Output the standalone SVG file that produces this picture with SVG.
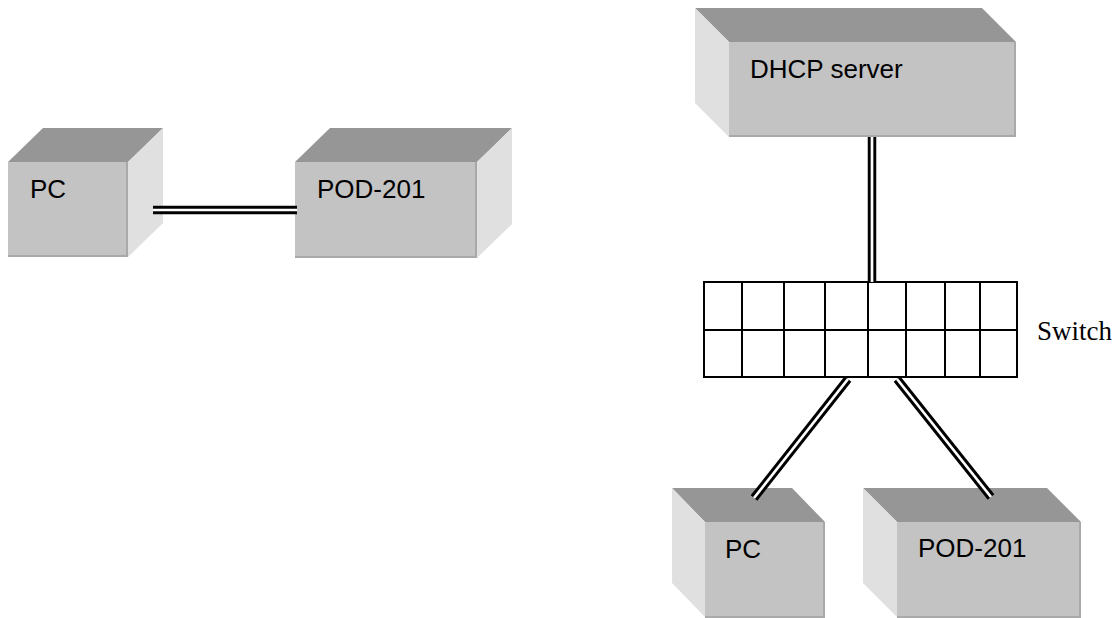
<svg xmlns="http://www.w3.org/2000/svg" width="1116" height="618" viewBox="0 0 1116 618">
<style>
.top{fill:#969696}
.front{fill:#c3c3c3}
.side{fill:#e0e0e0}
.edge{stroke:#a9a9a9;stroke-width:2;fill:none}
.lbl{font-family:"Liberation Sans",Arial,sans-serif;font-size:26px;fill:#000}
.slbl{font-family:"Liberation Serif","Times New Roman",serif;font-size:27px;fill:#000}
.grid{fill:#fff;stroke:#000;stroke-width:2}
.wo{stroke:#000;stroke-width:8.5;fill:none;stroke-linecap:butt}
.wi{stroke:#fff;stroke-width:2.7;fill:none;stroke-linecap:butt}
</style>
<rect width="1116" height="618" fill="#fff"/>

<g id="pc-left">
<polygon class="top" points="8,162 43,128 163,128 128,162"/>
<polygon class="side" points="128,162 163,128 163,223 128,257"/>
<rect class="front" x="8" y="162" width="120" height="95"/>
<polyline class="edge" points="8,256 127,256 127,162"/>
<text class="lbl" x="30" y="198">PC</text>
</g>

<g id="pod-left">
<polygon class="top" points="295,162 330,128 512,128 477,162"/>
<polygon class="side" points="477,162 512,128 512,224 477,258"/>
<rect class="front" x="295" y="162" width="182" height="96"/>
<polyline class="edge" points="295,257 476,257 476,162"/>
<text class="lbl" x="317" y="198">POD-201</text>
</g>

<g id="dhcp">
<polygon class="top" points="695,8 982,8 1016,42 729,42"/>
<polygon class="side" points="695,8 729,42 729,137 695,103"/>
<rect class="front" x="729" y="42" width="287" height="95"/>
<polyline class="edge" points="729,136 1015,136 1015,42"/>
<text class="lbl" x="750" y="78">DHCP server</text>
</g>

<g id="switch">
<rect class="grid" x="704" y="282" width="313" height="95"/>
<path class="grid" d="M704,330H1017M742,282V377M784,282V377M825,282V377M868,282V377M906,282V377M945,282V377M980,282V377"/>
<text class="slbl" x="1037" y="340">Switch</text>
</g>

<g id="pc-bottom">
<polygon class="top" points="672,488 792,488 825,522 705,522"/>
<polygon class="side" points="672,488 705,522 705,617 672,583"/>
<rect class="front" x="705" y="522" width="120" height="96"/>
<polyline class="edge" points="705,617 824,617 824,522"/>
<text class="lbl" x="725" y="558">PC</text>
</g>

<g id="pod-bottom">
<polygon class="top" points="863,488 1047,488 1081,522 897,522"/>
<polygon class="side" points="863,488 897,522 897,617 863,583"/>
<rect class="front" x="897" y="522" width="184" height="96"/>
<polyline class="edge" points="897,617 1080,617 1080,522"/>
<text class="lbl" x="918" y="557">POD-201</text>
</g>

<g id="connectors">
<line class="wo" x1="153" y1="210" x2="297" y2="210"/>
<line class="wi" x1="153" y1="210" x2="297" y2="210"/>
<line class="wo" x1="872" y1="137" x2="872" y2="282"/>
<line class="wi" x1="872" y1="137" x2="872" y2="282"/>
<line class="wo" x1="848" y1="379" x2="754" y2="498"/>
<line class="wi" x1="848" y1="379" x2="754" y2="498"/>
<line class="wo" x1="897" y1="379" x2="991" y2="497"/>
<line class="wi" x1="897" y1="379" x2="991" y2="497"/>
</g>
</svg>
